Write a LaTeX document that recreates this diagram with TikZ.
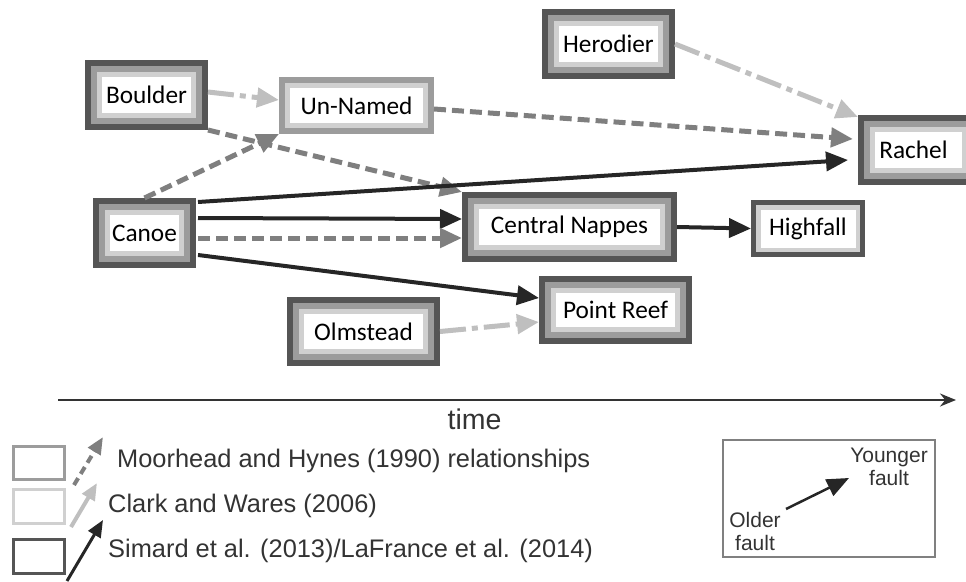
\documentclass[tikz,border=0pt]{standalone}
\usepackage{fontspec}
\setmainfont{Carlito}
\newfontfamily\arialf{Liberation Sans}
\usetikzlibrary{arrows.meta}
\definecolor{cD}{HTML}{555555}
\definecolor{cM}{HTML}{9C9C9C}
\definecolor{cL}{HTML}{D0D0D0}
\definecolor{aK}{HTML}{262626}
\definecolor{aM}{HTML}{7F7F7F}
\definecolor{aL}{HTML}{BFBFBF}
\definecolor{txt}{HTML}{333333}
\tikzset{
  faultbase/.style={inner sep=0pt, outer sep=0pt, fill=white, text=black,
    font=\fontsize{25.3}{30}\selectfont},
  dml/.style={faultbase, path picture={
    \fill[cD] (path picture bounding box.south west) rectangle (path picture bounding box.north east);
    \fill[cM] ([shift={(6pt,6pt)}]path picture bounding box.south west) rectangle ([shift={(-6pt,-6pt)}]path picture bounding box.north east);
    \fill[cL] ([shift={(12pt,12pt)}]path picture bounding box.south west) rectangle ([shift={(-12pt,-12pt)}]path picture bounding box.north east);
    \fill[white] ([shift={(17pt,17pt)}]path picture bounding box.south west) rectangle ([shift={(-17pt,-17pt)}]path picture bounding box.north east);
  }},
  ml/.style={faultbase, path picture={
    \fill[cM] (path picture bounding box.south west) rectangle (path picture bounding box.north east);
    \fill[cL] ([shift={(6pt,6pt)}]path picture bounding box.south west) rectangle ([shift={(-6pt,-6pt)}]path picture bounding box.north east);
    \fill[white] ([shift={(11pt,11pt)}]path picture bounding box.south west) rectangle ([shift={(-11pt,-11pt)}]path picture bounding box.north east);
  }},
  dl/.style={faultbase, path picture={
    \fill[cD] (path picture bounding box.south west) rectangle (path picture bounding box.north east);
    \fill[cL] ([shift={(5pt,5pt)}]path picture bounding box.south west) rectangle ([shift={(-5pt,-5pt)}]path picture bounding box.north east);
    \fill[white] ([shift={(9.5pt,9.5pt)}]path picture bounding box.south west) rectangle ([shift={(-9.5pt,-9.5pt)}]path picture bounding box.north east);
  }},
  bigtip/.style={-{Triangle[length=22pt,width=19pt]}},
  ak/.style={draw=aK, line width=4pt, bigtip},
  am/.style={draw=aM, line width=5pt, dash pattern=on 12pt off 6pt, bigtip},
  al/.style={draw=aL, line width=5pt, dash pattern=on 26pt off 6pt on 6pt off 6pt, bigtip},
  legtext/.style={inner sep=0pt, anchor=base west, text=txt, font=\arialf\fontsize{25.4}{30}\selectfont},
  smalltext/.style={inner sep=0pt, text=txt, align=center, font=\arialf\fontsize{21}{23}\selectfont},
  legtip/.style={-{Triangle[length=17pt,width=14pt]}},
}
\begin{document}
\begin{tikzpicture}[x=1pt,y=-1pt]
\useasboundingbox (0,0) rectangle (966,581);
% fault boxes
\node[dml, minimum width=123pt, minimum height=70pt] (boulder) at (146.5,95) {Boulder};
\node[ml, minimum width=155pt, minimum height=57pt] (unnamed) at (356.5,105.5) {Un-Named};
\node[dml, minimum width=103pt, minimum height=70pt] (canoe) at (144.5,233) {Canoe};
\node[dml, minimum width=133pt, minimum height=70pt] (herodier) at (608.5,44) {Herodier};
\node[dml, minimum width=121pt, minimum height=70pt] (rachel) at (918.5,150) {Rachel\hspace*{10pt}};
\node[dml, minimum width=215pt, minimum height=70pt] (cn) at (569.5,227) {Central Nappes};
\node[dl, minimum width=114pt, minimum height=57pt] (highfall) at (808,228.5) {Highfall};
\node[dml, minimum width=153pt, minimum height=68pt] (pointreef) at (615.5,310) {Point Reef};
\node[dml, minimum width=153pt, minimum height=69pt] (olmstead) at (363.5,331.5) {Olmstead};
% relationships
\draw[al] ([yshift=3pt]boulder.east) -- ([yshift=5.5pt]unnamed.west);
\draw[am] (boulder.south east) -- (cn.north west);
\draw[am] (canoe.north) -- (unnamed.south west);
\draw[ak] ([xshift=2pt,yshift=-4pt]canoe.north east) -- ([xshift=-10pt,yshift=-10pt]rachel.west);
\draw[ak] ([xshift=2pt,yshift=15pt]canoe.east) -- ([yshift=8pt]cn.west);
\draw[am] ([xshift=2pt,yshift=-5pt]canoe.east) -- ([yshift=-11pt]cn.west);
\draw[ak] ([xshift=2pt,yshift=13pt]canoe.south east) -- ([yshift=12pt]pointreef.west);
\draw[al] (olmstead.east) -- ([yshift=-12pt]pointreef.west);
\draw[am] ([yshift=-3.5pt]unnamed.east) -- ([xshift=-5pt,yshift=11pt]rachel.west);
\draw[al] (herodier.east) -- ([yshift=-2pt]rachel.north west);
\draw[ak] (cn.east) -- (highfall.west);
% time axis
\coordinate (t0) at (58,400);
\coordinate (t1) at (956,400);
\draw[draw=txt, line width=2pt, -{Stealth[length=16pt,width=13pt]}] (t0) -- (t1);
\node[inner sep=0pt, anchor=base, text=txt, font=\arialf\fontsize{28.5}{30}\selectfont] (time) at (474.5,429) {time};
% legend
\node[draw=cM, line width=3pt, minimum width=51pt, minimum height=33pt, inner sep=0pt] (lgM) at (38.5,462.5) {};
\node[draw=cL, line width=3pt, minimum width=51pt, minimum height=34pt, inner sep=0pt] (lgL) at (38.5,506) {};
\node[draw=cD, line width=3pt, minimum width=51pt, minimum height=34pt, inner sep=0pt] (lgD) at (38.5,556) {};
\coordinate (lmA) at (74,485); \coordinate (lmB) at (103,437);
\coordinate (llA) at (71,527); \coordinate (llB) at (97,483);
\coordinate (lkA) at (67,581); \coordinate (lkB) at (103,520);
\draw[draw=aM, line width=4pt, dash pattern=on 8pt off 5pt, legtip] (lmA) -- (lmB);
\draw[draw=aL, line width=4pt, legtip] (llA) -- (llB);
\draw[draw=aK, line width=3pt, legtip] (lkA) -- (lkB);
\node[legtext] (lt1) at (117,467) {Moorhead and Hynes (1990) relationships};
\node[legtext] (lt2) at (108,512) {Clark and Wares (2006)};
\node[legtext] (lt3) at (108,557) {Simard et al. (2013)/LaFrance et al. (2014)};
% older / younger box
\node[draw=black!50, line width=1.5pt, minimum width=212pt, minimum height=117pt, inner sep=0pt] (agebox) at (829,498.5) {};
\node[smalltext] (older) at (755,531) {Older\\fault};
\node[smalltext] (younger) at (889,467) {Younger\\fault};
\coordinate (oA) at (786,509);
\coordinate (oB) at (849,478);
\draw[draw=aK, line width=2.5pt, -{Triangle[length=22pt,width=18pt]}] (oA) -- (oB);
\end{tikzpicture}
\end{document}
